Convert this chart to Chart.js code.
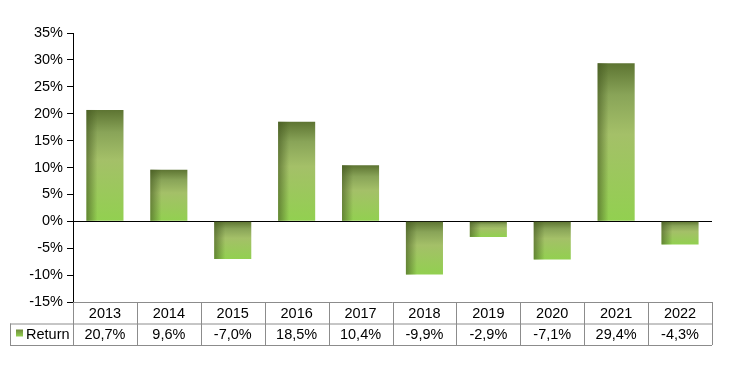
<!doctype html>
<html lang="en">
<head>
<meta charset="utf-8">
<title>Return per year</title>
<style>
  html, body { margin: 0; padding: 0; background: #fff; }
  #wrap { width: 730px; height: 379px; }
</style>
</head>
<body>
<div id="wrap"><canvas id="chart" width="730" height="379"></canvas></div>
<script src="https://cdn.jsdelivr.net/npm/chart.js"></script>
<script>
const years = ['2013', '2014', '2015', '2016', '2017', '2018', '2019', '2020', '2021', '2022'];
const returns = [20.7, 9.6, -7.0, 18.5, 10.4, -9.9, -2.9, -7.1, 29.4, -4.3];
const seriesName = 'Return';
const yTicks = { min: -15, max: 35, step: 5 };

const FONT = '"Liberation Sans", Arial, sans-serif';

// value row of the table, comma as decimal mark
function fmt(v) { return v.toFixed(1).replace('.', ',') + '%'; }
const labels = years.map((y, i) => [y, fmt(returns[i])]);

function barFill(ctx) {
  const chart = ctx.chart;
  const area = chart.chartArea;
  if (!area || ctx.dataIndex === undefined) return '#8fb552';
  const ys = chart.scales.y;
  const a = ys.getPixelForValue(returns[ctx.dataIndex]);
  const b = ys.getPixelForValue(0);
  const top = Math.min(a, b), bot = Math.max(a, b);
  const g = chart.ctx.createLinearGradient(0, top, 0, bot + 0.01);
  g.addColorStop(0, '#5d7432');
  g.addColorStop(0.2, '#89a458');
  g.addColorStop(0.45, '#a4c068');
  g.addColorStop(1, '#92d050');
  return g;
}

// darker left edge of each bar, like the bevel in the original
const bevel = {
  id: 'bevel',
  afterDatasetsDraw(chart) {
    const c = chart.ctx;
    chart.getDatasetMeta(0).data.forEach(bar => {
      const left = bar.x - bar.width / 2;
      const top = Math.min(bar.y, bar.base), h = Math.abs(bar.base - bar.y);
      const g = c.createLinearGradient(left, 0, left + 11, 0);
      g.addColorStop(0, 'rgba(65,85,30,0.6)');
      g.addColorStop(0.5, 'rgba(65,85,30,0.3)');
      g.addColorStop(1, 'rgba(65,85,30,0)');
      c.save();
      c.fillStyle = g;
      c.fillRect(left, top, 11, h);
      c.restore();
    });
  }
};

// data table grid under the plot
const table = {
  id: 'table',
  afterDraw(chart) {
    const c = chart.ctx;
    const xs = chart.scales.x;
    const area = chart.chartArea;
    const rowH = 21.5;
    const y0 = area.bottom, y1 = y0 + rowH, y2 = y0 + rowH * 2;
    const half = (xs.getPixelForValue(1) - xs.getPixelForValue(0)) / 2;
    const legLeft = 10;
    c.save();
    c.strokeStyle = '#8c8c8c';
    c.lineWidth = 1;
    c.beginPath();
    c.moveTo(area.left, y0 + 0.5); c.lineTo(area.right, y0 + 0.5);
    c.moveTo(legLeft, y1 + 0.5); c.lineTo(area.right, y1 + 0.5);
    c.moveTo(legLeft, y2 + 0.5); c.lineTo(area.right, y2 + 0.5);
    c.moveTo(legLeft + 0.5, y1); c.lineTo(legLeft + 0.5, y2);
    for (let i = 0; i <= years.length; i++) {
      const x = Math.round(xs.getPixelForValue(i) - half) + 0.5;
      c.moveTo(x, y0); c.lineTo(x, y2);
    }
    c.stroke();
    // legend key
    const g = c.createLinearGradient(0, y1 + 6, 0, y1 + 13);
    g.addColorStop(0, '#6f8a3c');
    g.addColorStop(1, '#92d050');
    c.fillStyle = g;
    c.fillRect(16, y1 + 6, 7, 7);
    c.fillStyle = '#000';
    c.font = '14.5px ' + FONT;
    c.textBaseline = 'middle';
    c.fillText(seriesName, 26, y1 + rowH / 2 + 0.5);
    c.restore();
  }
};

new Chart(document.getElementById('chart'), {
  type: 'bar',
  data: {
    labels: labels,
    datasets: [{
      label: seriesName,
      data: returns,
      backgroundColor: barFill,
      borderWidth: 0,
      categoryPercentage: 1,
      barPercentage: 0.58
    }]
  },
  options: {
    responsive: false,
    animation: false,
    layout: { padding: { top: 33, right: 18, bottom: 34, left: 0 } },
    plugins: { legend: { display: false }, tooltip: { enabled: false } },
    scales: {
      x: {
        grid: { display: false, drawTicks: false },
        border: { display: false },
        ticks: {
          color: '#000',
          padding: 1,
          maxRotation: 0,
          autoSkip: false,
          font: { family: FONT, size: 14.5, lineHeight: 1.48 }
        },
        afterFit(scale) { scale.height = 43; }
      },
      y: {
        min: yTicks.min,
        max: yTicks.max,
        border: { display: true, color: '#000', width: 1 },
        grid: {
          drawOnChartArea: true,
          tickLength: 6,
          tickColor: '#000',
          color: ctx => (ctx.tick && ctx.tick.value === 0 ? '#000' : 'rgba(0,0,0,0)'),
          lineWidth: 1
        },
        ticks: {
          stepSize: yTicks.step,
          color: '#000',
          padding: 4,
          font: { family: FONT, size: 14.5 },
          callback: v => v + '%'
        },
        afterFit(scale) { scale.width = 73; }
      }
    }
  },
  plugins: [bevel, table]
});
</script>
</body>
</html>
